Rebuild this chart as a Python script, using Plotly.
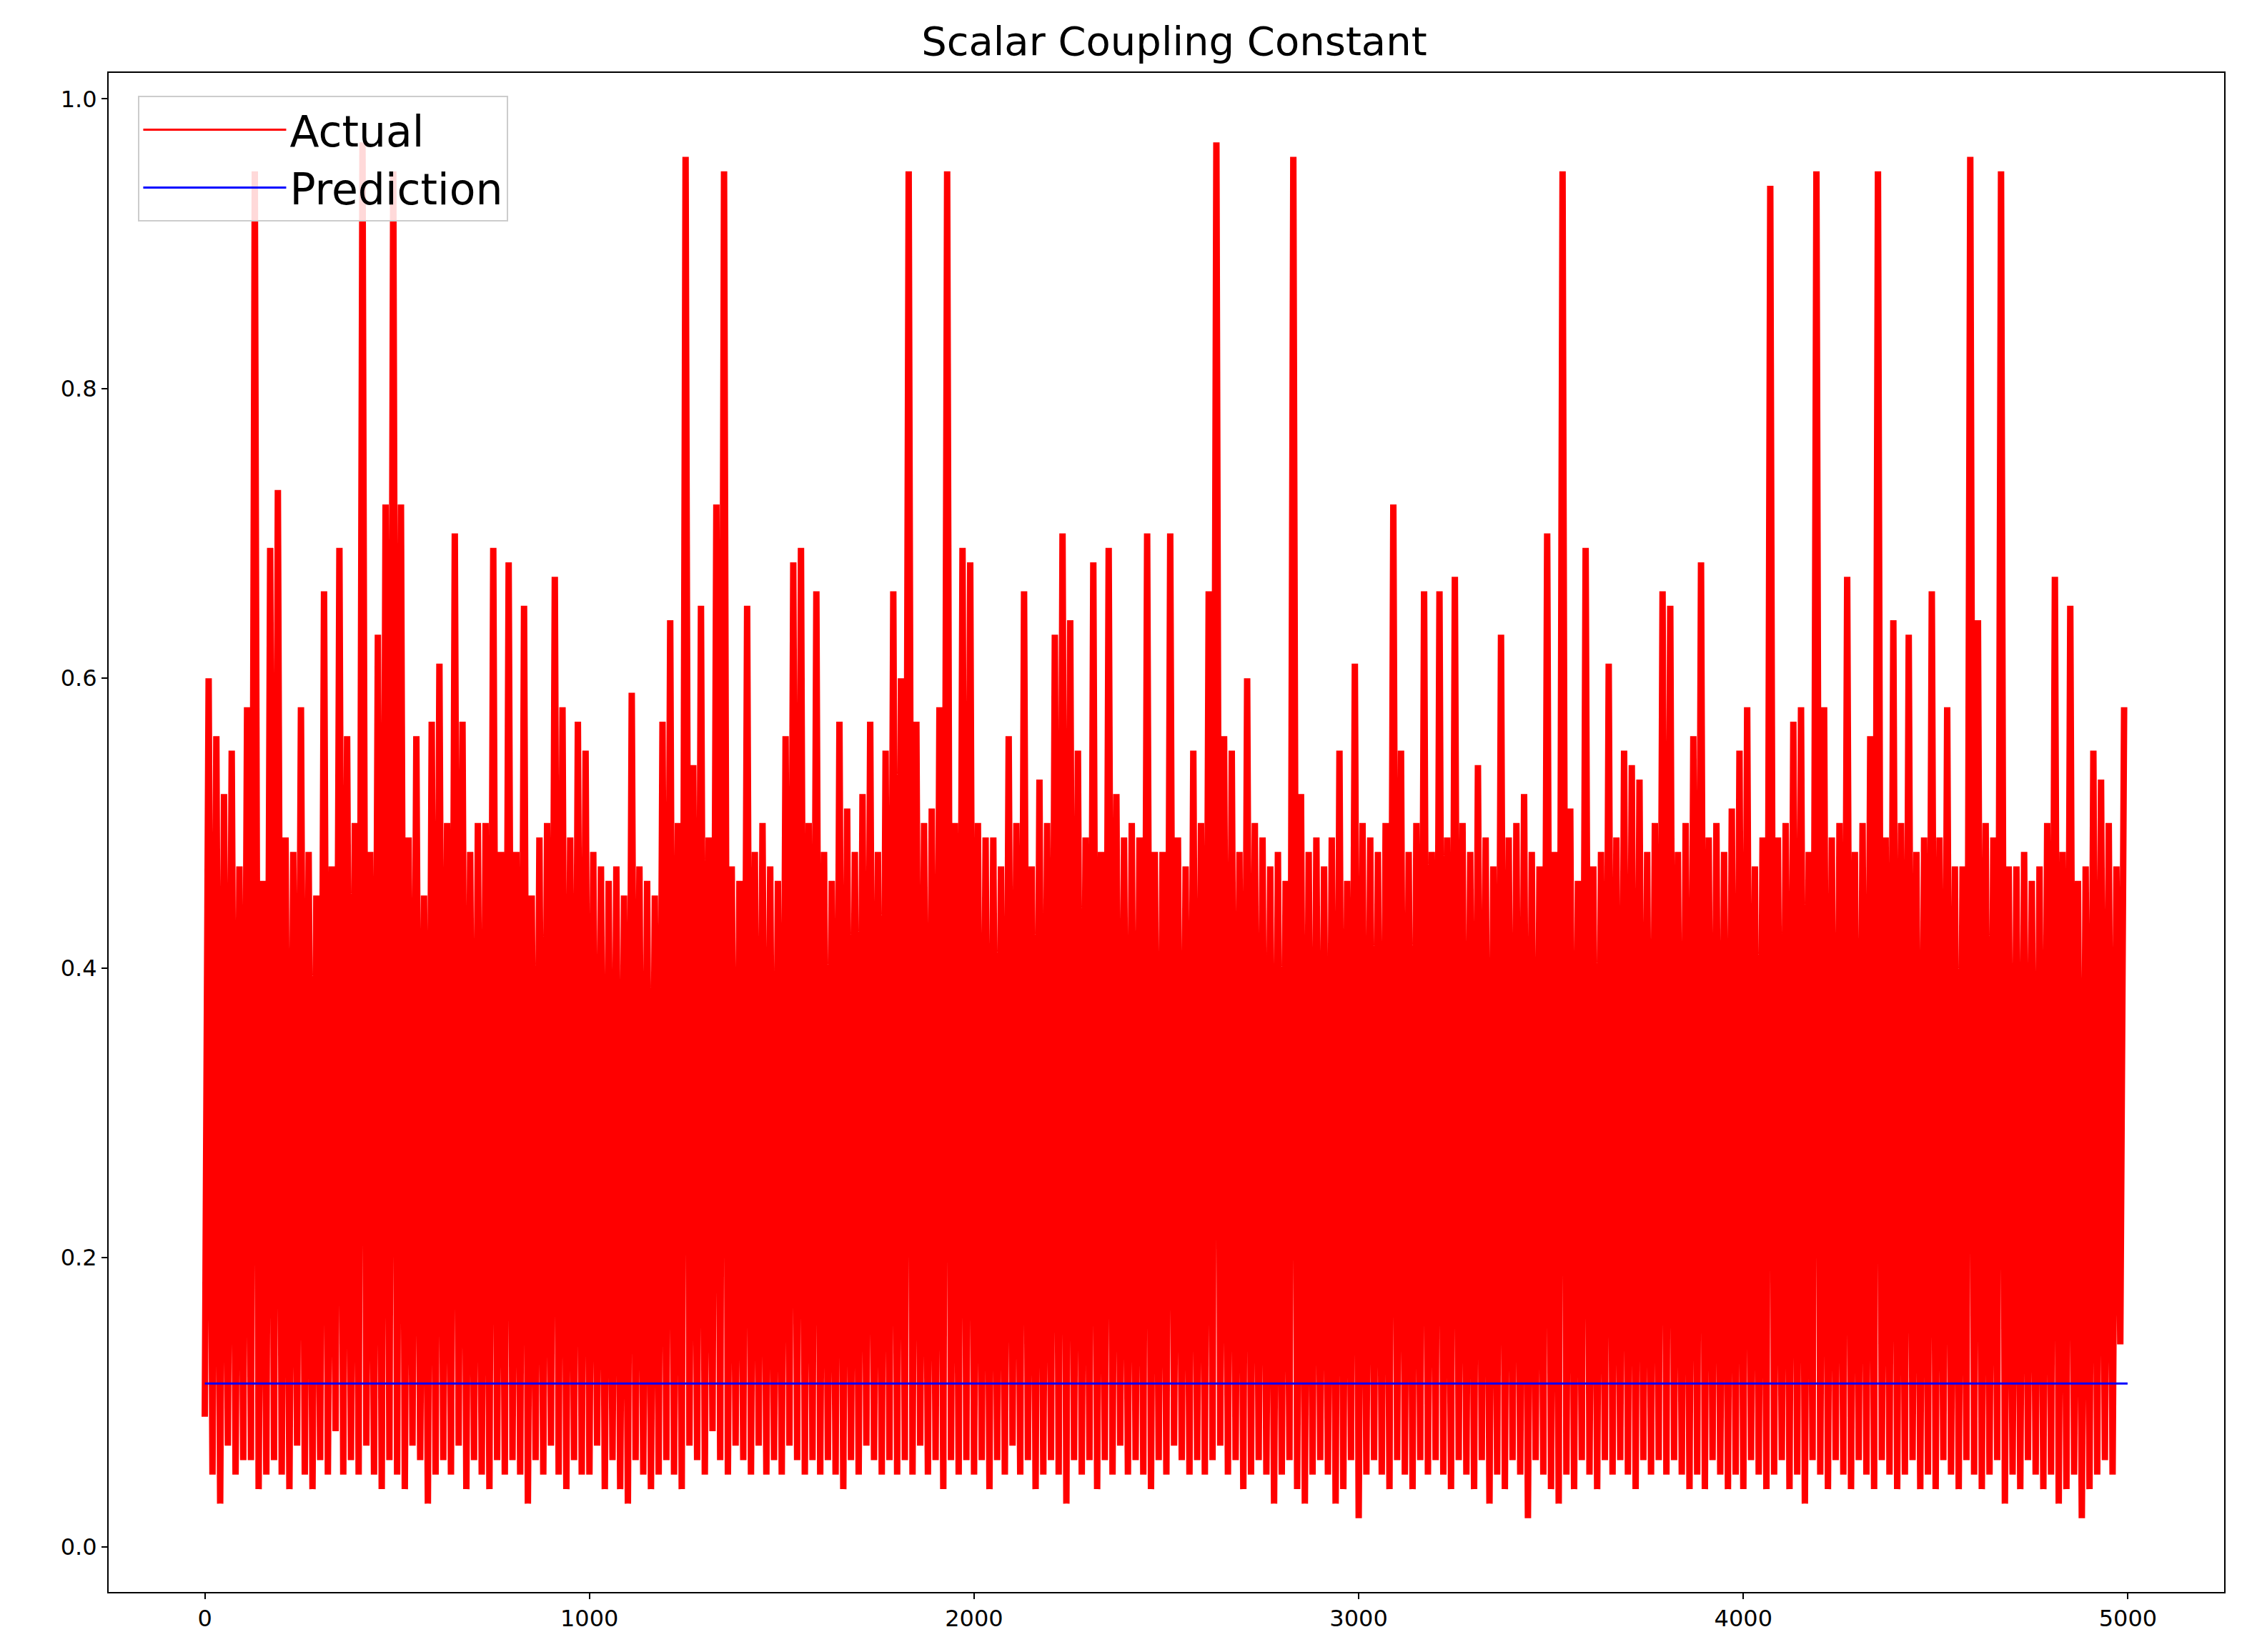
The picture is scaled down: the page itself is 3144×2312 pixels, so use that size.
import plotly.graph_objects as go

title_text = "Scalar Coupling Constant"
x_ticks = [0, 1000, 2000, 3000, 4000, 5000]
y_ticks = [0.0, 0.2, 0.4, 0.6, 0.8, 1.0]
prediction_value = 0.113

# upper peaks of Actual, every 20 samples starting at index 10
highs = [
    0.60,0.56,0.52,0.55,0.47,0.58,0.95,0.46,0.69,0.73,
    0.49,0.48,0.58,0.48,0.45,0.66,0.47,0.69,0.56,0.50,
    0.97,0.48,0.63,0.72,0.95,0.72,0.49,0.56,0.45,0.57,
    0.61,0.50,0.70,0.57,0.48,0.50,0.50,0.69,0.48,0.68,
    0.48,0.65,0.45,0.49,0.50,0.67,0.58,0.49,0.57,0.55,
    0.48,0.47,0.46,0.47,0.45,0.59,0.47,0.46,0.45,0.57,
    0.64,0.50,0.96,0.54,0.65,0.49,0.72,0.95,0.47,0.46,
    0.65,0.48,0.50,0.47,0.46,0.56,0.68,0.69,0.50,0.66,
    0.48,0.46,0.57,0.51,0.48,0.52,0.57,0.48,0.55,0.66,
    0.60,0.95,0.57,0.50,0.51,0.58,0.95,0.50,0.69,0.68,
    0.50,0.49,0.49,0.47,0.56,0.50,0.66,0.47,0.53,0.50,
    0.63,0.70,0.64,0.55,0.49,0.68,0.48,0.69,0.52,0.49,
    0.50,0.49,0.70,0.48,0.48,0.70,0.49,0.47,0.55,0.50,
    0.66,0.97,0.56,0.55,0.48,0.60,0.50,0.49,0.47,0.48,
    0.46,0.96,0.52,0.48,0.49,0.47,0.49,0.55,0.46,0.61,
    0.50,0.49,0.48,0.50,0.72,0.55,0.48,0.50,0.66,0.48,
    0.66,0.49,0.67,0.50,0.48,0.54,0.49,0.47,0.63,0.49,
    0.50,0.52,0.48,0.47,0.70,0.48,0.95,0.51,0.46,0.69,
    0.47,0.48,0.61,0.49,0.55,0.54,0.53,0.48,0.50,0.66,
    0.65,0.48,0.50,0.56,0.68,0.49,0.50,0.48,0.51,0.55,
    0.58,0.47,0.49,0.94,0.49,0.50,0.57,0.58,0.48,0.95,
    0.58,0.49,0.50,0.67,0.48,0.50,0.56,0.95,0.49,0.64,
    0.50,0.63,0.48,0.49,0.66,0.49,0.58,0.47,0.47,0.96,
    0.64,0.50,0.49,0.95,0.47,0.47,0.48,0.46,0.47,0.50,
    0.67,0.48,0.65,0.46,0.47,0.55,0.53,0.50,0.47,0.58,
]
# lower troughs of Actual, every 20 samples starting at index 0
lows = [
    0.09,0.05,0.03,0.07,0.05,0.06,0.06,0.04,0.05,0.06,
    0.05,0.04,0.07,0.05,0.04,0.06,0.05,0.08,0.05,0.06,
    0.05,0.07,0.05,0.04,0.06,0.05,0.04,0.07,0.06,0.03,
    0.05,0.06,0.05,0.07,0.04,0.06,0.05,0.04,0.06,0.05,
    0.06,0.05,0.03,0.06,0.05,0.07,0.05,0.04,0.06,0.05,
    0.05,0.07,0.04,0.06,0.04,0.03,0.06,0.05,0.04,0.05,
    0.06,0.05,0.04,0.07,0.06,0.05,0.08,0.06,0.05,0.07,
    0.06,0.05,0.07,0.05,0.06,0.05,0.07,0.06,0.05,0.06,
    0.05,0.06,0.05,0.04,0.06,0.05,0.07,0.06,0.05,0.06,
    0.05,0.06,0.05,0.07,0.05,0.06,0.04,0.06,0.05,0.06,
    0.05,0.06,0.04,0.06,0.05,0.07,0.05,0.06,0.04,0.05,
    0.06,0.05,0.03,0.06,0.05,0.06,0.04,0.06,0.05,0.07,
    0.05,0.06,0.05,0.04,0.06,0.05,0.07,0.06,0.05,0.06,
    0.05,0.06,0.07,0.05,0.06,0.04,0.05,0.06,0.05,0.03,
    0.05,0.06,0.04,0.03,0.05,0.06,0.05,0.03,0.04,0.06,
    0.02,0.05,0.06,0.05,0.04,0.06,0.05,0.04,0.06,0.05,
    0.06,0.05,0.04,0.06,0.05,0.04,0.06,0.03,0.05,0.04,
    0.06,0.05,0.02,0.06,0.05,0.04,0.03,0.05,0.04,0.06,
    0.05,0.04,0.06,0.05,0.06,0.05,0.04,0.06,0.05,0.06,
    0.05,0.06,0.05,0.04,0.05,0.04,0.06,0.05,0.04,0.05,
    0.04,0.06,0.05,0.04,0.05,0.06,0.04,0.05,0.03,0.06,
    0.05,0.04,0.06,0.05,0.04,0.06,0.05,0.04,0.06,0.05,
    0.04,0.05,0.06,0.04,0.05,0.04,0.06,0.05,0.04,0.06,
    0.05,0.04,0.05,0.06,0.03,0.05,0.04,0.06,0.05,0.04,
    0.05,0.03,0.04,0.05,0.02,0.04,0.05,0.06,0.05,0.14,
]

xs, ys = [], []
for i in range(len(lows)):
    xs.append(20 * i); ys.append(lows[i])
    xs.append(20 * i + 10); ys.append(highs[i])
pred_x = [0, 4999]
pred_y = [prediction_value, prediction_value]

fig = go.Figure()
fig.add_trace(go.Scatter(x=xs, y=ys, mode="lines", name="Actual", showlegend=False,
                         line=dict(color="#ff0000", width=9)))
fig.add_trace(go.Scatter(x=pred_x, y=pred_y, mode="lines", name="Prediction", showlegend=False,
                         line=dict(color="#0000ff", width=3)))
# legend entries with thin line samples
fig.add_trace(go.Scatter(x=[None], y=[None], mode="lines", name="Actual",
                         line=dict(color="#ff0000", width=3)))
fig.add_trace(go.Scatter(x=[None], y=[None], mode="lines", name="Prediction",
                         line=dict(color="#0000ff", width=3)))

axis_common = dict(showgrid=False, zeroline=False, showline=True, mirror=True,
                   linecolor="black", linewidth=2, ticks="outside", ticklen=8,
                   tickwidth=2, tickcolor="black",
                   tickfont=dict(family="DejaVu Sans", size=32, color="black"))
fig.update_layout(
    width=3144, height=2312,
    paper_bgcolor="white", plot_bgcolor="white",
    margin=dict(l=144, r=40, t=94, b=92),
    title=dict(text=title_text, x=0.52, xanchor="center", y=0.987, yanchor="top",
               font=dict(family="DejaVu Sans", size=56, color="black")),
    xaxis=dict(range=[-250, 5250], tickvals=x_ticks, **axis_common),
    yaxis=dict(range=[-0.031, 1.018], tickvals=y_ticks, tickformat=".1f", **axis_common),
    legend=dict(x=0.014, y=0.985, xanchor="left", yanchor="top",
                bgcolor="rgba(255,255,255,0.85)", bordercolor="#cccccc", borderwidth=2,
                font=dict(family="DejaVu Sans", size=60, color="black"),
                itemwidth=200, tracegroupgap=20),
    showlegend=True,
)
fig.write_html("out.html")
